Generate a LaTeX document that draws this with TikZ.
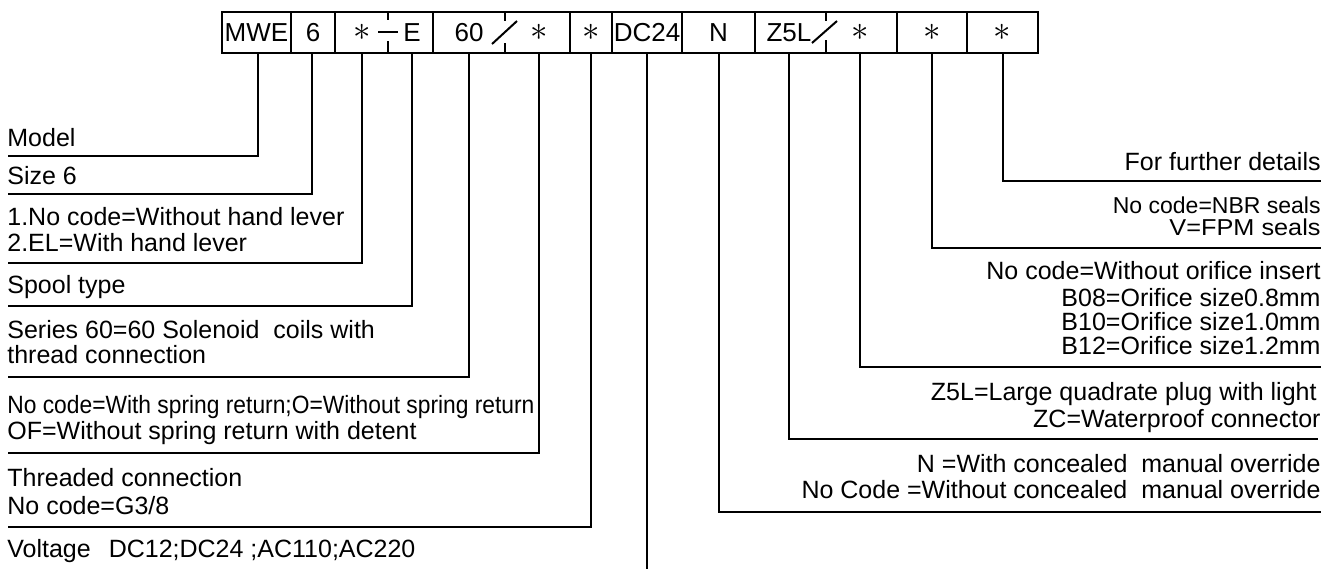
\documentclass[tikz,border=0pt]{standalone}
\usepackage{fontspec}
\setmainfont{Liberation Sans}
\usepackage{graphicx}
\newcommand{\bigast}{\scalebox{1.45}{$\ast$}}
\begin{document}
\begin{tikzpicture}[x=0.5pt,y=-0.5pt,
  ln/.style={line width=1pt},
  conn/.style={line width=1pt},
  cell/.style={draw,line width=1pt,minimum height=20.5pt,inner sep=0pt,outer sep=0pt,font=\fontsize{13}{15}\selectfont},
  cw/.style={minimum width=#1*0.5pt},
  code/.style={inner sep=0pt,font=\fontsize{13}{15}\selectfont},
  lt/.style={anchor=base west,inner sep=0pt,font=\fontsize{12.5}{15}\selectfont},
  rt/.style={anchor=base east,inner sep=0pt,font=\fontsize{12.5}{15}\selectfont},
  st/.style={anchor=base east,inner sep=0pt,font=\fontsize{11.5}{13}\selectfont}]
\useasboundingbox (0,0) rectangle (1339,569);

% code cells
\node[cell,cw=69]  (c1)  at (256.5,32.5) {MWE};
\node[cell,cw=44]  (c2)  at (313,32.5) {6};
\node[cell,cw=98]  (c3)  at (384,32.5) {};
\node[cell,cw=137] (c4)  at (501.5,32.5) {};
\node[cell,cw=42]  (c5)  at (591,32.5) {\bigast};
\node[cell,cw=70]  (c6)  at (647,32.5) {DC24};
\node[cell,cw=73]  (c7)  at (718.5,32.5) {N};
\node[cell,cw=142] (c8)  at (826,32.5) {};
\node[cell,cw=70]  (c9)  at (932,32.5) {\bigast};
\node[cell,cw=71]  (c10) at (1002.5,32.5) {\bigast};

\node[code] (t3a) at (362,32.5) {\bigast};
\node[code] (t3b) at (412,32.5) {E};
\node[code] (t4a) at (469,32.5) {60};
\node[code] (t4b) at (539,32.5) {\bigast};
\node[code] (t8a) at (789,32.5) {Z5L};
\node[code] (t8b) at (860,32.5) {\bigast};

% half dividers, dash and slashes
\draw[ln] (388,12) -- (388,20) (388,41) -- (388,53);
\draw[ln] (378,32) -- (398,32);
\draw[ln] (505,12) -- (505,21) (505,43) -- (505,53);
\draw[ln] (492,44) -- (517,21);
\draw[ln] (826,12) -- (826,21) (826,40) -- (826,53);
\draw[ln] (812,43) -- (837,21);

% free ends of the leader lines
\coordinate (eModel)  at (8,156);
\coordinate (eSize)   at (8,194);
\coordinate (eLever)  at (8,263);
\coordinate (eSpool)  at (8,306);
\coordinate (eSeries) at (8,377);
\coordinate (eSpring) at (8,453);
\coordinate (eThread) at (8,527);
\coordinate (eVolt)   at (647,569);
\coordinate (eOverride) at (1321,512);
\coordinate (ePlug)     at (1318,439);
\coordinate (eOrifice)  at (1321,367);
\coordinate (eSeals)    at (1321,248);
\coordinate (eFurther)  at (1321,181);

% left texts
\node[lt] (lModel) at (7,146) {Model};
\node[lt] (lSize) at (7,184) {Size 6};
\node[lt] (lLever1) at (7,225) {1.No code=Without hand lever};
\node[lt] (lLever2) at (7,251) {2.EL=With hand lever};
\node[lt] (lSpool) at (7,293) {Spool type};
\node[lt] (lSeries1) at (7,338) {Series 60=60 Solenoid\ \ coils with};
\node[lt] (lSeries2) at (7,363) {thread connection};
\node[lt] (lSpring1) at (7,413) {\resizebox{263.5pt}{\height}{No code=With spring return;O=Without spring return}};
\node[lt] (lSpring2) at (7,439) {OF=Without spring return with detent};
\node[lt] (lThread1) at (7,486) {Threaded connection};
\node[lt] (lThread2) at (7,514) {No code=G3/8};
\node[lt] (lVolt) at (7,557) {Voltage\hspace{9pt}DC12;DC24 ;AC110;AC220};

% right texts
\node[rt] (rFurther) at (1321,170) {For further details};
\node[st] (rSeals1) at (1321,213) {No code=NBR seals};
\node[st] (rSeals2) at (1321,235) {\scalebox{1.1}[1]{V=FPM seals}};
\node[rt] (rOr1) at (1321,279) {No code=Without orifice insert};
\node[rt] (rOr2) at (1321,306) {B08=Orifice size0.8mm};
\node[rt] (rOr3) at (1321,330) {B10=Orifice size1.0mm};
\node[rt] (rOr4) at (1321,354) {B12=Orifice size1.2mm};
\node[rt] (rPlug1) at (1317,400) {Z5L=Large quadrate plug with light};
\node[rt] (rPlug2) at (1321,427) {ZC=Waterproof connector};
\node[rt] (rOv1) at (1321,472) {N =With concealed\ \ manual override};
\node[rt] (rOv2) at (1321,498) {No Code =Without concealed\ \ manual override};

% connectors
\draw[conn] ([xshift=0.75pt]c1.south) |- (eModel);
\draw[conn] ([xshift=-0.5pt]c2.south) |- (eSize);
\draw[conn] (t3a |- c3.south) |- (eLever);
\draw[conn] (t3b |- c3.south) |- (eSpool);
\draw[conn] (t4a |- c4.south) |- (eSeries);
\draw[conn] (t4b |- c4.south) |- (eSpring);
\draw[conn] (c5.south) |- (eThread);
\draw[conn] (c6.south) -- (c6.south |- eVolt);
\draw[conn] (c7.south) |- (eOverride);
\draw[conn] (t8a |- c8.south) |- (ePlug);
\draw[conn] (t8b |- c8.south) |- (eOrifice);
\draw[conn] (c9.south) |- (eSeals);
\draw[conn] (c10.south) |- (eFurther);
\end{tikzpicture}
\end{document}
